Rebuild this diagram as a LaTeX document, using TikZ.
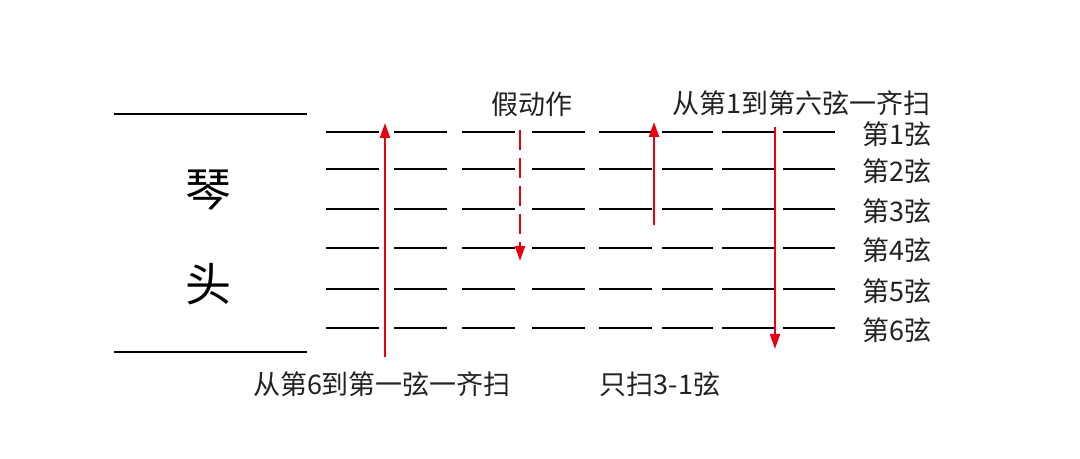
\documentclass[tikz,border=0pt]{standalone}
\usepackage{fontspec}
\setmainfont{Noto Sans CJK SC}
\usepackage{tikz}
\usetikzlibrary{arrows.meta}
\definecolor{strum}{HTML}{E60012}
\definecolor{ink}{HTML}{222222}
\tikzset{
  string/.style={draw=black, line width=1pt},
  nut/.style={draw=black, line width=1pt},
  stroke/.style={draw=strum, line width=1pt, -{Triangle[length=7.5pt,width=5pt]}},
  fake/.style={stroke, dash pattern=on 10pt off 4pt},
  lab/.style={text=ink, font=\fontsize{13.5}{16}\selectfont, inner sep=0pt},
  head/.style={text=black, font=\fontsize{23}{26}\selectfont, inner sep=0pt}
}
\begin{document}
\begin{tikzpicture}[x=0.5pt, y=-0.5pt]
  \useasboundingbox[fill=white] (0,0) rectangle (1080,459);

  % headstock
  \draw[nut] (114,114) -- (307,114);
  \draw[nut] (114,352) -- (307,352);
  \node[head] (qin) at (208,190) {琴};
  \node[head] (tou) at (208,284) {头};

  % six strings, broken into short pieces
  \foreach \y [count=\i] in {132,169,209,248,289,328} {
    \foreach \a/\b in {326/379,394/447,462/515,532/585,599/652,662/713,722/775,783/835}
      \draw[string] (\a,\y) -- (\b,\y);
    \node[lab] (s\i) at (897,\y+2) {第\i 弦};
  }

  % strokes
  \coordinate (up1a) at (385,357);
  \coordinate (up1b) at (385,123);
  \coordinate (fka) at (520,130);
  \coordinate (fkb) at (520,261);
  \coordinate (up2a) at (654,225);
  \coordinate (up2b) at (654,122);
  \coordinate (dna) at (775,127);
  \coordinate (dnb) at (775,349);

  \draw[stroke] (up1a) -- (up1b);
  \draw[fake] (fka) -- (fkb);
  \draw[stroke] (up2a) -- (up2b);
  \draw[stroke] (dna) -- (dnb);

  \node[lab] (fakelab) at (532,104) {假动作};
  \node[lab] (downlab) at (801,103) {从第1到第六弦一齐扫};
  \node[lab] (uplab) at (382,384) {从第6到第一弦一齐扫};
  \node[lab] (partlab) at (660,384) {只扫3-1弦};
\end{tikzpicture}
\end{document}
